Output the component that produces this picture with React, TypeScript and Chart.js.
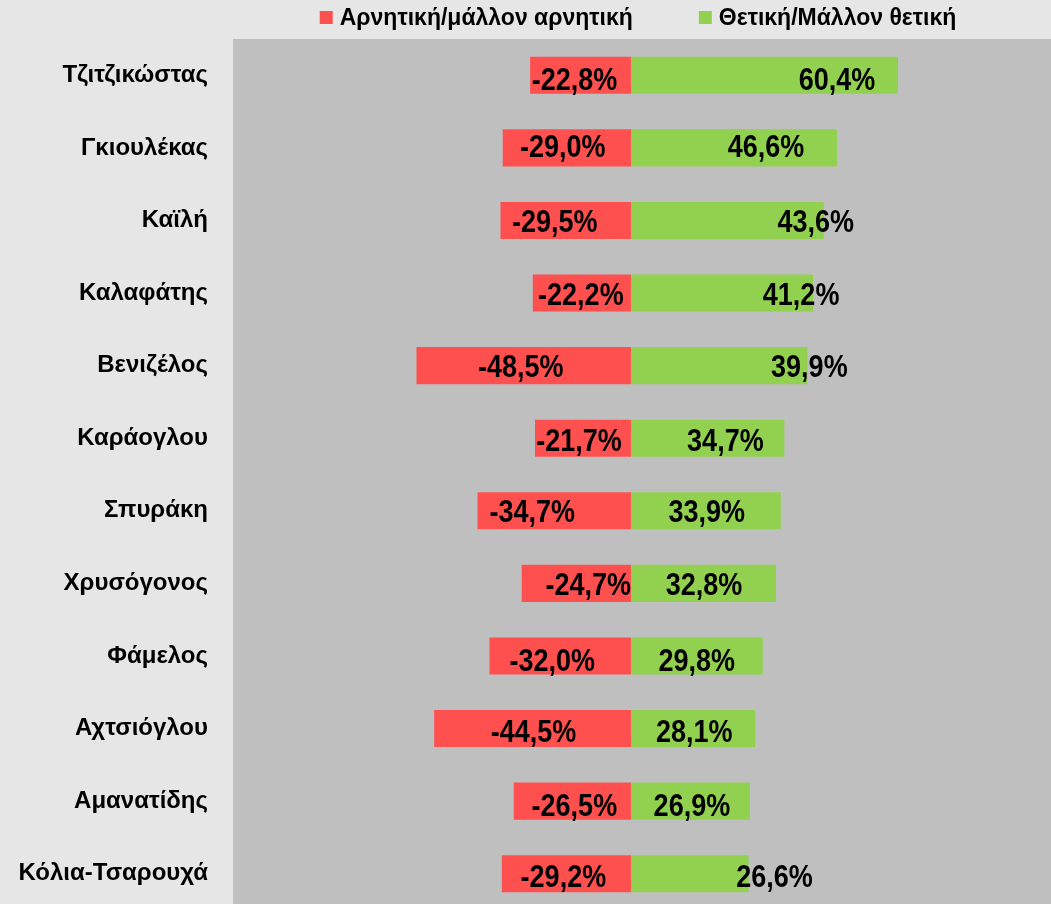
import React, { useEffect, useRef } from "react";
import { Chart, registerables } from "chart.js";

Chart.register(...registerables);

const categories = [
  "Τζιτζικώστας",
  "Γκιουλέκας",
  "Καϊλή",
  "Καλαφάτης",
  "Βενιζέλος",
  "Καράογλου",
  "Σπυράκη",
  "Χρυσόγονος",
  "Φάμελος",
  "Αχτσιόγλου",
  "Αμανατίδης",
  "Κόλια-Τσαρουχά",
];
const negativeValues = [-22.8, -29.0, -29.5, -22.2, -48.5, -21.7, -34.7, -24.7, -32.0, -44.5, -26.5, -29.2];
const positiveValues = [60.4, 46.6, 43.6, 41.2, 39.9, 34.7, 33.9, 32.8, 29.8, 28.1, 26.9, 26.6];
const seriesNames = ["Αρνητική/μάλλον αρνητική", "Θετική/Μάλλον θετική"];

// label placement tweaks (pixels) mimicking the hand-placed labels of the original
const negLabelShift = [-6, -4, -11, -1, -3, -4, -22, 12, -8, 1, 2, -3];
const posLabelShift = [-61, -71, -8, -12, 2, -59, -74, -72, -66, -61, -58, 26];
const labelDy = [6, 1, 3, 3, 3, 4, 3, 3, 6, 5, 6, 5];

const RED = "#FF5050";
const GREEN = "#92D050";
const PLOT_BG = "#BFBFBF";
const PAGE_BG = "#E6E6E6";
const FONT = "'Liberation Sans', Arial, sans-serif";

const fmt = (v: number) => v.toFixed(1).replace(".", ",") + "%";

const plotBgPlugin = {
  id: "plotBg",
  beforeDraw(chart: any) {
    const { ctx, chartArea } = chart;
    ctx.save();
    ctx.fillStyle = PLOT_BG;
    ctx.fillRect(chartArea.left, chartArea.top, chartArea.right - chartArea.left, chartArea.bottom - chartArea.top);
    ctx.restore();
  },
};

const labelsPlugin = {
  id: "valueLabels",
  afterDatasetsDraw(chart: any) {
    const { ctx } = chart;
    ctx.save();
    ctx.fillStyle = "#000";
    ctx.font = `bold 27px ${FONT}`;
    ctx.textAlign = "center";
    ctx.textBaseline = "middle";
    chart.data.datasets.forEach((ds: any, di: number) => {
      const meta = chart.getDatasetMeta(di);
      meta.data.forEach((el: any, i: number) => {
        const v = ds.data[i] as number;
        let cx: number;
        if (v < 0) cx = (el.x + el.base) / 2 + negLabelShift[i];
        else cx = el.x + posLabelShift[i];
        const cy = el.y + labelDy[i];
        ctx.save();
        ctx.translate(cx, cy);
        ctx.scale(1, 1.15);
        ctx.fillText(fmt(v), 0, 0);
        ctx.restore();
      });
    });
    ctx.restore();
  },
};

const legendPlugin = {
  id: "topLegend",
  afterDraw(chart: any) {
    const { ctx, chartArea } = chart;
    ctx.save();
    ctx.font = `bold 23px ${FONT}`;
    ctx.textBaseline = "middle";
    const box = 13;
    const gap = 7;
    const itemGap = 66;
    const items = chart.data.datasets.map((ds: any) => ({
      label: ds.label as string,
      color: ds.backgroundColor as string,
      w: ctx.measureText(ds.label).width,
    }));
    const total = items.reduce((s: number, it: any) => s + box + gap + it.w, 0) + itemGap * (items.length - 1);
    let x = (chartArea.left + chartArea.right) / 2 - 4 - total / 2;
    items.forEach((it: any) => {
      ctx.fillStyle = it.color;
      ctx.fillRect(x, 11, box, box);
      ctx.fillStyle = "#000";
      ctx.fillText(it.label, x + box + gap, 19);
      x += box + gap + it.w + itemGap;
    });
    ctx.restore();
  },
};

export default function App() {
  const ref = useRef<HTMLCanvasElement | null>(null);
  useEffect(() => {
    document.body.style.margin = "0";
    if (!ref.current) return;
    const chart = new Chart(ref.current, {
      type: "bar",
      data: {
        labels: categories,
        datasets: [
          { label: seriesNames[0], data: negativeValues, backgroundColor: RED, borderWidth: 0 },
          { label: seriesNames[1], data: positiveValues, backgroundColor: GREEN, borderWidth: 0 },
        ],
      },
      options: {
        indexAxis: "y",
        responsive: false,
        animation: false,
        devicePixelRatio: 1,
        layout: { padding: { top: 39, left: 0, right: 0, bottom: 0 } },
        datasets: { bar: { barPercentage: 0.51, categoryPercentage: 1 } },
        scales: {
          x: {
            stacked: true,
            min: -90,
            max: 95,
            display: false,
          },
          y: {
            stacked: true,
            grid: { display: false },
            border: { display: false },
            afterFit(scale: any) {
              scale.width = 233;
              scale.paddingTop = 0;
              scale.paddingBottom = 0;
            },
            ticks: {
              color: "#000",
              padding: 17,
              font: { family: FONT, size: 24, weight: "bold" },
            },
          },
        },
        plugins: {
          legend: { display: false },
          tooltip: { enabled: false },
        },
      },
      plugins: [plotBgPlugin, labelsPlugin, legendPlugin],
    });
    return () => chart.destroy();
  }, []);
  return (
    <div style={{ width: 1051, height: 904, overflow: "hidden", background: PAGE_BG }}>
      <canvas ref={ref} width={1051} height={910} style={{ display: "block" }} />
    </div>
  );
}
